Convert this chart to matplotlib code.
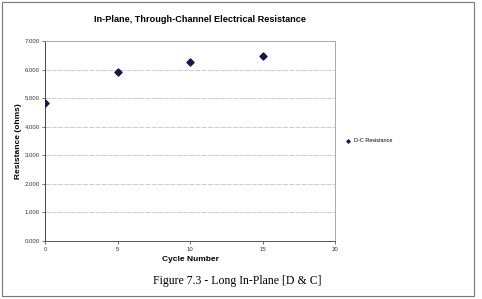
import matplotlib.pyplot as plt
from matplotlib.patches import Rectangle

# data
cycles = [0, 5, 10, 15]
resistance = [4.83, 5.91, 6.27, 6.49]
y_ticks = [0, 1, 2, 3, 4, 5, 6, 7]
x_ticks = [0, 5, 10, 15, 20]

plt.rcParams['font.family'] = ['Liberation Sans', 'DejaVu Sans']

fig = plt.figure(figsize=(4.82, 2.99), dpi=100)
W, H = 482, 299

# outer chart frame
fig.patches.append(Rectangle((2 / W, 3 / H), 472 / W, 294 / H, transform=fig.transFigure,
                             fill=False, edgecolor='#777777', linewidth=0.8))

ax = fig.add_axes([45 / W, 1 - 241 / H, 290 / W, 200 / H])
ax.scatter(cycles, resistance, marker='D', s=13, color='#16164f', zorder=3,
           label='D-C Resistance')

ax.set_xlim(0, 20)
ax.set_ylim(0, 7)
ax.set_xticks(x_ticks)
ax.set_yticks(y_ticks)
ax.set_yticklabels([f"{v:.3f}" for v in y_ticks])
ax.tick_params(labelsize=4.3, length=2, width=0.5, pad=2, colors='#333333')
ax.grid(axis='y', color='#c4c4c4', linewidth=0.6, linestyle=(0, (6, 1.5)))
ax.set_axisbelow(True)
for s in ax.spines.values():
    s.set_color('#aaaaaa')
    s.set_linewidth(0.7)
ax.spines['left'].set_color('#444444')
ax.spines['bottom'].set_color('#555555')

ax.set_xlabel("Cycle Number", fontsize=6, fontweight='bold', labelpad=3)
ax.set_ylabel("Resistance (ohms)", fontsize=6, fontweight='bold', labelpad=1.5)

fig.text(200 / W, 1 - 20 / H, "In-Plane, Through-Channel Electrical Resistance",
         fontsize=6.6, fontweight='bold', ha='center', va='center')

ax.legend(loc='center left', bbox_to_anchor=(340 / W, 1 - 141 / H),
          bbox_transform=fig.transFigure, frameon=False, fontsize=4,
          handletextpad=0.0, markerscale=0.45, borderpad=0)

fig.text(237 / W, 1 - 281 / H, "Figure 7.3 - Long In-Plane [D & C]",
         fontsize=8.5, family=['Liberation Serif', 'DejaVu Serif'],
         ha='center', va='center')

fig.savefig("out.png", dpi=100)
